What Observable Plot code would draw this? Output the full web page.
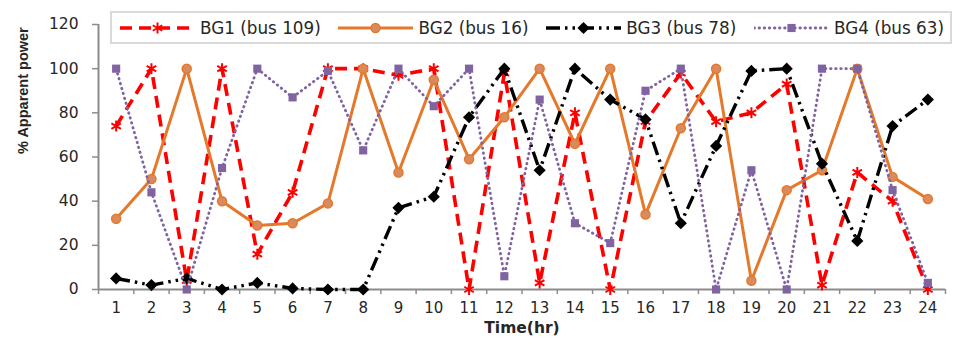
<!DOCTYPE html>
<html>
<head>
<meta charset="utf-8">
<script src="https://cdn.jsdelivr.net/npm/d3@7"></script>
<script src="https://cdn.jsdelivr.net/npm/@observablehq/plot@0.6"></script>
<style>
  body { margin: 0; background: #fff; }
  #chart { position: relative; width: 953px; height: 341px; font-family: "DejaVu Sans", sans-serif; }
  #legend {
    position: absolute; left: 110px; top: 11px; width: 842px; height: 33px;
    box-sizing: border-box; border: 2px solid #d9d9d9; background: #fff;
    display: flex; align-items: center; justify-content: space-between;
    padding: 0 6px 0 8px;
  }
  .entry { display: flex; align-items: center; }
  .entry span { margin-left: 5px; font-size: 16.8px; color: #262626; white-space: nowrap; }
</style>
</head>
<body>
<div id="chart"><div id="legend"></div></div>
<script>
// Hours of the day (x categories)
const hours = [1, 2, 3, 4, 5, 6, 7, 8, 9, 10, 11, 12, 13, 14, 15, 16, 17, 18, 19, 20, 21, 22, 23, 24];
const yTicks = [0, 20, 40, 60, 80, 100, 120];

// Series names
const names = ["BG1 (bus 109)", "BG2 (bus 16)", "BG3 (bus 78)", "BG4 (bus 63)"];

// % apparent power per hour for each generator
const bg1 = [74, 100, 4, 100, 16, 44, 100, 100, 97, 100, 0, 98, 3, 80, 0, 76, 98, 76, 80, 93, 2, 53, 40, 0];
const bg2 = [32, 50, 100, 40, 29, 30, 39, 100, 53, 95, 59, 78, 100, 66, 100, 34, 73, 100, 4, 45, 54, 100, 51, 41];
const bg3 = [5, 2, 5, 0, 3, 0.5, 0, 0, 37, 42, 78, 100, 54, 100, 86, 77, 30, 65, 99, 100, 57, 22, 74, 86];
const bg4 = [100, 44, 0, 55, 100, 87, 99, 63, 100, 83, 100, 6, 86, 30, 21, 90, 100, 0, 54, 0, 100, 100, 45, 3];

// Visual style of each series
const styles = [
  {stroke: "#ff0000", width: 3.6, dash: "12,7", cap: "butt", symbol: "asterisk", r: 5.2, fill: "none", markStroke: "#ff0000", markWidth: 2},
  {stroke: "#e5792b", width: 3, dash: null, cap: "butt", symbol: "circle", r: 4.5, fill: "#d98a5e", markStroke: "#e5792b", markWidth: 1.5},
  {stroke: "#000000", width: 3.4, dash: "14,5,2.5,5,2.5,5", cap: "butt", symbol: "diamond2", r: 5.5, fill: "#000", markStroke: "none", markWidth: 0},
  {stroke: "#8064a2", width: 2.8, dash: "0.5,4.6", cap: "round", symbol: "square", r: 4.6, fill: "#8064a2", markStroke: "none", markWidth: 0}
];

const valueLists = [bg1, bg2, bg3, bg4];
const tables = valueLists.map((vals, i) => hours.map((h, j) => ({hour: h, value: vals[j], series: names[i]})));

// Boundaries between hour categories, where tick marks sit
const edges = hours.map(h => h - 0.5).concat([hours[hours.length - 1] + 0.5]);
const axisGray = "#8c8c8c";

const seriesMarks = tables.flatMap((rows, i) => {
  const s = styles[i];
  return [
    Plot.line(rows, {x: "hour", y: "value", stroke: s.stroke, strokeWidth: s.width, strokeDasharray: s.dash, strokeLinecap: s.cap, strokeLinejoin: "round"}),
    Plot.dot(rows, {x: "hour", y: "value", symbol: () => s.symbol, r: s.r, fill: s.fill, stroke: s.markStroke, strokeWidth: s.markWidth})
  ];
});

const chart = Plot.plot({
  width: 953,
  height: 341,
  marginLeft: 98,
  marginRight: 8,
  marginTop: 24,
  marginBottom: 52,
  style: {fontFamily: "DejaVu Sans, sans-serif", fontSize: "15px", color: "#262626", background: "#fff"},
  x: {domain: [edges[0], edges[edges.length - 1]], axis: null},
  y: {domain: [0, 120], axis: null},
  symbol: {type: "identity"},
  marks: [
    Plot.axisY({ticks: yTicks, tickSize: 6, tickPadding: 14, stroke: axisGray, strokeWidth: 1.5, fill: "#262626", fontSize: 15.5, label: null}),
    Plot.axisX({ticks: hours, tickSize: 0, tickPadding: 13, fill: "#262626", fontSize: 15, label: null}),
    Plot.axisX({ticks: edges, tickSize: 5, tickFormat: () => "", stroke: axisGray, strokeWidth: 1.5, label: null}),
    Plot.ruleY([0], {stroke: axisGray, strokeWidth: 2}),
    Plot.ruleX([edges[0]], {y1: 0, y2: 120, stroke: axisGray, strokeWidth: 2}),
    ...seriesMarks,
    Plot.text(["% Apparent power"], {frameAnchor: "left", dx: -75, dy: -3, rotate: -90, fontWeight: "bold", fontFamily: "Liberation Sans, sans-serif", fontSize: 14.5, fill: "#262626"}),
    Plot.text(["Time(hr)"], {frameAnchor: "bottom", dy: 43, fontWeight: "bold", fontSize: 15.5, fill: "#262626"})
  ]
});
document.getElementById("chart").prepend(chart);

// Legend: a short line sample with its marker, then the series name
const legend = d3.select("#legend");
names.forEach((name, i) => {
  const s = styles[i];
  const entry = legend.append("div").attr("class", "entry");
  const svg = entry.append("svg").attr("width", 75).attr("height", 20);
  svg.append("line").attr("x1", 0).attr("x2", 75).attr("y1", 10).attr("y2", 10)
    .attr("stroke", s.stroke).attr("stroke-width", s.width)
    .attr("stroke-dasharray", s.dash).attr("stroke-linecap", s.cap);
  const sym = {asterisk: d3.symbolAsterisk, circle: d3.symbolCircle, diamond2: d3.symbolDiamond2, square: d3.symbolSquare}[s.symbol];
  svg.append("path").attr("transform", "translate(37.5,10)")
    .attr("d", d3.symbol(sym, Math.PI * s.r * s.r)())
    .attr("fill", s.fill).attr("stroke", s.markStroke).attr("stroke-width", s.markWidth);
  entry.append("span").text(name);
});
</script>
</body>
</html>
